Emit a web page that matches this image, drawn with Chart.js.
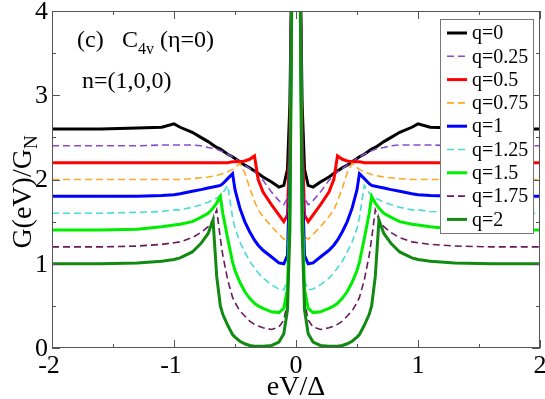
<!DOCTYPE html>
<html>
<head>
<meta charset="utf-8">
<script src="https://cdn.jsdelivr.net/npm/chart.js@4.4.1/dist/chart.umd.min.js"></script>
<style>
  html, body { margin: 0; padding: 0; background: #fff; }
</style>
</head>
<body>
<canvas id="gChart" width="545" height="399"></canvas>
<script>
// eV/Delta sample points
const xVals = [-2.0, -1.6, -1.3, -1.1, -1.0, -0.95, -0.85, -0.78, -0.72, -0.68, -0.65, -0.62, -0.6, -0.56, -0.52, -0.5, -0.46, -0.42, -0.38, -0.34, -0.31, -0.27, -0.2, -0.14, -0.1, -0.07, -0.05, -0.03,
               0.03, 0.05, 0.07, 0.1, 0.14, 0.2, 0.27, 0.31, 0.34, 0.38, 0.42, 0.46, 0.5, 0.52, 0.56, 0.6, 0.62, 0.65, 0.68, 0.72, 0.78, 0.85, 0.95, 1.0, 1.1, 1.3, 1.6, 2.0];

// G(eV)/G_N for each q
const gQ0 = [2.6, 2.6, 2.61, 2.62, 2.66, 2.62, 2.56, 2.5, 2.45, 2.41, 2.38, 2.36, 2.34, 2.3, 2.27, 2.25, 2.21, 2.17, 2.14, 2.1, 2.07, 2.03, 1.97, 1.91, 1.93, 2.12, 2.9, 5,
             5, 2.9, 2.12, 1.93, 1.91, 1.97, 2.03, 2.07, 2.1, 2.14, 2.17, 2.21, 2.25, 2.27, 2.3, 2.34, 2.36, 2.38, 2.41, 2.45, 2.5, 2.56, 2.62, 2.66, 2.62, 2.61, 2.6, 2.6];
const gQ025 = [2.4, 2.4, 2.4, 2.41, 2.41, 2.41, 2.41, 2.4, 2.38, 2.37, 2.36, 2.34, 2.33, 2.3, 2.27, 2.25, 2.21, 2.17, 2.13, 2.09, 2.05, 1.99, 1.85, 1.75, 1.7, 1.78, 2.6, 5,
               5, 2.6, 1.78, 1.7, 1.75, 1.85, 1.99, 2.05, 2.09, 2.13, 2.17, 2.21, 2.25, 2.27, 2.3, 2.33, 2.34, 2.36, 2.37, 2.38, 2.4, 2.41, 2.41, 2.41, 2.41, 2.4, 2.4, 2.4];
const gQ05 = [2.2, 2.2, 2.2, 2.2, 2.2, 2.2, 2.2, 2.2, 2.2, 2.2, 2.2, 2.2, 2.2, 2.2, 2.21, 2.21, 2.21, 2.22, 2.24, 2.28, 2.0, 1.85, 1.7, 1.58, 1.5, 1.58, 2.5, 5,
              5, 2.5, 1.58, 1.5, 1.58, 1.7, 1.85, 2.0, 2.28, 2.24, 2.22, 2.21, 2.21, 2.21, 2.2, 2.2, 2.2, 2.2, 2.2, 2.2, 2.2, 2.2, 2.2, 2.2, 2.2, 2.2, 2.2, 2.2];
const gQ075 = [2.0, 2.0, 2.0, 2.0, 2.0, 2.0, 2.01, 2.02, 2.03, 2.04, 2.05, 2.06, 2.07, 2.09, 2.12, 2.14, 2.19, 2.08, 1.9, 1.74, 1.64, 1.56, 1.44, 1.35, 1.29, 1.32, 2.3, 5,
               5, 2.3, 1.32, 1.29, 1.35, 1.44, 1.56, 1.64, 1.74, 1.9, 2.08, 2.19, 2.14, 2.12, 2.09, 2.07, 2.06, 2.05, 2.04, 2.03, 2.02, 2.01, 2.0, 2.0, 2.0, 2.0, 2.0, 2.0];
const gQ1 = [1.8, 1.8, 1.8, 1.81, 1.82, 1.83, 1.86, 1.88, 1.9, 1.91, 1.92, 1.93, 1.95, 2.01, 2.07, 1.88, 1.66, 1.5, 1.38, 1.28, 1.22, 1.16, 1.08, 1.01, 1.0, 1.1, 2.1, 5,
             5, 2.1, 1.1, 1.0, 1.01, 1.08, 1.16, 1.22, 1.28, 1.38, 1.5, 1.66, 1.88, 2.07, 2.01, 1.95, 1.93, 1.92, 1.91, 1.9, 1.88, 1.86, 1.83, 1.82, 1.81, 1.8, 1.8, 1.8];
const gQ125 = [1.6, 1.6, 1.61, 1.62, 1.64, 1.64, 1.67, 1.7, 1.73, 1.76, 1.78, 1.81, 1.84, 1.93, 1.55, 1.42, 1.26, 1.14, 1.03, 0.95, 0.89, 0.83, 0.75, 0.7, 0.69, 0.8, 1.9, 5,
               5, 1.9, 0.8, 0.69, 0.7, 0.75, 0.83, 0.89, 0.95, 1.03, 1.14, 1.26, 1.42, 1.55, 1.93, 1.84, 1.81, 1.78, 1.76, 1.73, 1.7, 1.67, 1.64, 1.64, 1.62, 1.61, 1.6, 1.6];
const gQ15 = [1.4, 1.4, 1.41, 1.44, 1.46, 1.47, 1.5, 1.55, 1.6, 1.66, 1.72, 1.8, 1.6, 1.3, 1.02, 0.92, 0.78, 0.67, 0.59, 0.53, 0.5, 0.47, 0.43, 0.42, 0.47, 0.7, 1.7, 5,
              5, 1.7, 0.7, 0.47, 0.42, 0.43, 0.47, 0.5, 0.53, 0.59, 0.67, 0.78, 0.92, 1.02, 1.3, 1.6, 1.8, 1.72, 1.66, 1.6, 1.55, 1.5, 1.47, 1.46, 1.44, 1.41, 1.4, 1.4];
const gQ175 = [1.2, 1.2, 1.21, 1.23, 1.25, 1.26, 1.31, 1.37, 1.44, 1.52, 1.64, 1.3, 1.1, 0.81, 0.6, 0.54, 0.44, 0.38, 0.32, 0.28, 0.26, 0.24, 0.22, 0.25, 0.33, 0.55, 1.5, 5,
               5, 1.5, 0.55, 0.33, 0.25, 0.22, 0.24, 0.26, 0.28, 0.32, 0.38, 0.44, 0.54, 0.6, 0.81, 1.1, 1.3, 1.64, 1.52, 1.44, 1.37, 1.31, 1.26, 1.25, 1.23, 1.21, 1.2, 1.2];
const gQ2 = [1.0, 1.0, 1.01, 1.03, 1.05, 1.07, 1.14, 1.24, 1.36, 1.52, 0.85, 0.5, 0.4, 0.27, 0.16, 0.13, 0.08, 0.05, 0.03, 0.02, 0.02, 0.02, 0.03, 0.07, 0.17, 0.45, 1.4, 5,
             5, 1.4, 0.45, 0.17, 0.07, 0.03, 0.02, 0.02, 0.02, 0.03, 0.05, 0.08, 0.13, 0.16, 0.27, 0.4, 0.5, 0.85, 1.52, 1.36, 1.24, 1.14, 1.07, 1.05, 1.03, 1.01, 1.0, 1.0];

const seriesNames = ['q=0', 'q=0.25', 'q=0.5', 'q=0.75', 'q=1', 'q=1.25', 'q=1.5', 'q=1.75', 'q=2'];
const seriesData = [gQ0, gQ025, gQ05, gQ075, gQ1, gQ125, gQ15, gQ175, gQ2];
const seriesColors = ['#000000', '#8a4bd0', '#ff0000', '#ffa726', '#0000ff', '#48dcd4', '#00ee00', '#6a1a5c', '#128a12'];
const seriesDashed = [false, true, false, true, false, true, false, true, false];

const xTicks = [-2, -1, 0, 1, 2];
const yTicks = [0, 1, 2, 3, 4];

const SERIF = '"Liberation Serif", "DejaVu Serif", serif';

const datasets = seriesData.map((arr, i) => ({
    label: seriesNames[i],
    data: xVals.map((x, k) => ({ x: x, y: arr[k] })),
    borderColor: seriesColors[i],
    borderWidth: seriesDashed[i] ? 1.6 : 3,
    borderDash: seriesDashed[i] ? [7, 4] : [],
    pointRadius: 0,
    tension: 0,
    fill: false,
    order: 8 - i
}));

// frame, inward ticks, labels, legend, annotations
const decor = {
    id: 'decor',
    afterDraw(chart) {
        const { ctx, chartArea: a, scales: { x, y } } = chart;
        ctx.save();

        // frame
        ctx.strokeStyle = '#555';
        ctx.lineWidth = 1;
        ctx.strokeRect(a.left + 0.5, a.top + 0.5, a.right - a.left - 1, a.bottom - a.top - 1);

        // ticks (inside, mirrored)
        ctx.beginPath();
        for (let v = -2; v <= 2.001; v += 0.5) {
            const px = Math.round(x.getPixelForValue(v)) + 0.5;
            const len = Number.isInteger(v) ? 8 : 4;
            ctx.moveTo(px, a.bottom); ctx.lineTo(px, a.bottom - len);
            ctx.moveTo(px, a.top); ctx.lineTo(px, a.top + len);
        }
        for (let v = 0; v <= 4.001; v += 0.5) {
            const py = Math.round(y.getPixelForValue(v)) + 0.5;
            const len = Number.isInteger(v) ? 8 : 4;
            ctx.moveTo(a.left, py); ctx.lineTo(a.left + len, py);
            ctx.moveTo(a.right, py); ctx.lineTo(a.right - len, py);
        }
        ctx.stroke();

        // tick labels
        ctx.fillStyle = '#000';
        ctx.font = '26px ' + SERIF;
        ctx.textAlign = 'center';
        ctx.textBaseline = 'alphabetic';
        xTicks.forEach(v => {
            ctx.fillText(v < 0 ? '-' + Math.abs(v) : String(v), x.getPixelForValue(v) - (v < 0 ? 3 : 0), a.bottom + 25);
        });
        ctx.textAlign = 'right';
        ctx.textBaseline = 'middle';
        yTicks.forEach(v => {
            ctx.fillText(String(v), a.left - 4, y.getPixelForValue(v) + 1);
        });

        // x title
        ctx.textAlign = 'center';
        ctx.textBaseline = 'alphabetic';
        ctx.font = '28px ' + SERIF;
        ctx.fillText('eV/Δ', (a.left + a.right) / 2, 395);

        // y title with subscript
        ctx.save();
        ctx.translate(31, 192);
        ctx.rotate(-Math.PI / 2);
        const main = 'G(eV)/G';
        ctx.font = '28px ' + SERIF;
        const wMain = ctx.measureText(main).width;
        ctx.font = '19px ' + SERIF;
        const wSub = ctx.measureText('N').width;
        const start = -(wMain + wSub) / 2;
        ctx.textAlign = 'left';
        ctx.font = '28px ' + SERIF;
        ctx.fillText(main, start, 0);
        ctx.font = '19px ' + SERIF;
        ctx.fillText('N', start + wMain, 6);
        ctx.restore();

        // annotations
        ctx.textAlign = 'left';
        ctx.font = '24px ' + SERIF;
        ctx.fillText('(c)', 77, 47);
        ctx.fillText('C', 122, 47);
        ctx.font = '16px ' + SERIF;
        ctx.fillText('4v', 138, 54);
        ctx.font = '24px ' + SERIF;
        ctx.fillText('(η=0)', 160, 47);
        ctx.fillText('n=(1,0,0)', 82, 88);

        // legend
        const lx = 440, ly = 19, lw = 93, lh = 214;
        ctx.fillStyle = '#fff';
        ctx.fillRect(lx, ly, lw, lh);
        ctx.strokeStyle = '#777';
        ctx.lineWidth = 1;
        ctx.strokeRect(lx + 0.5, ly + 0.5, lw, lh);
        ctx.font = '20px ' + SERIF;
        ctx.textBaseline = 'middle';
        chart.data.datasets.forEach((ds, i) => {
            const cy = 33 + i * 23.3;
            ctx.beginPath();
            ctx.strokeStyle = ds.borderColor;
            ctx.lineWidth = ds.borderWidth;
            ctx.setLineDash(ds.borderDash);
            ctx.moveTo(447, cy);
            ctx.lineTo(467, cy);
            ctx.stroke();
            ctx.setLineDash([]);
            ctx.fillStyle = '#000';
            ctx.fillText(ds.label, 472, cy + 1);
        });

        ctx.restore();
    }
};

new Chart(document.getElementById('gChart'), {
    type: 'line',
    data: { datasets: datasets },
    options: {
        responsive: false,
        animation: false,
        layout: { padding: { left: 52, right: 5, top: 11, bottom: 51 } },
        scales: {
            x: { type: 'linear', min: -2, max: 2, display: false },
            y: { type: 'linear', min: 0, max: 4, display: false }
        },
        plugins: { legend: { display: false }, tooltip: { enabled: false } }
    },
    plugins: [decor]
});
</script>
</body>
</html>
